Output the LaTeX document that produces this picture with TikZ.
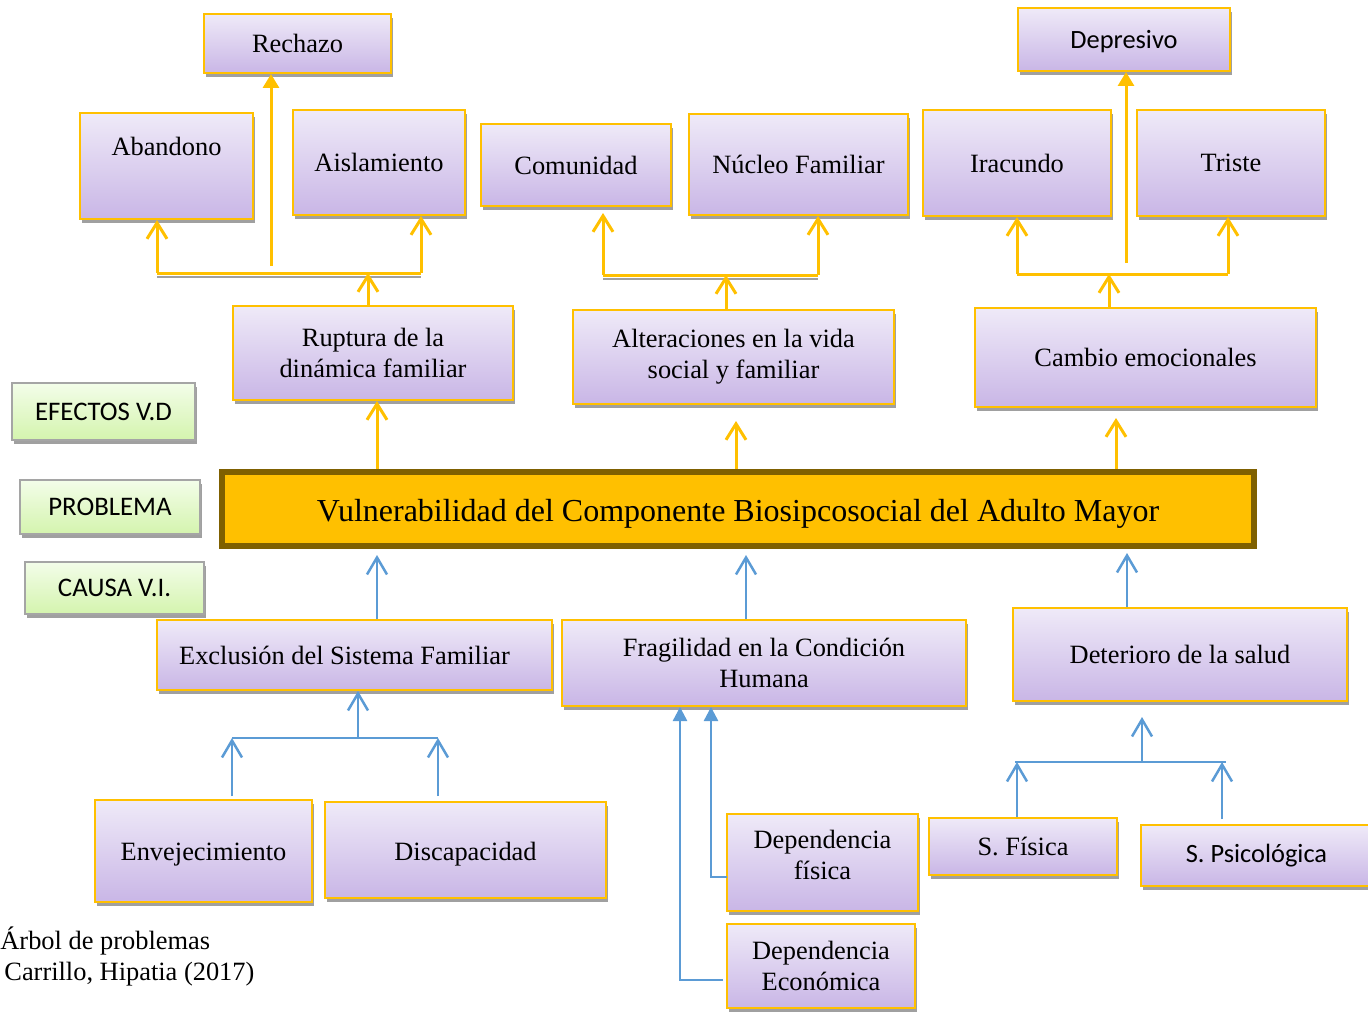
\documentclass[tikz,border=0pt]{standalone}
\usepackage{fontspec}
\setmainfont{Liberation Serif}
\newfontfamily\calib{Carlito}
\usetikzlibrary{arrows.meta,shadows}

\definecolor{gold}{HTML}{FFC000}
\definecolor{lavtop}{HTML}{EFEAF8}
\definecolor{lavbot}{HTML}{C9B6E6}
\definecolor{greentop}{HTML}{F3FDE9}
\definecolor{greenbot}{HTML}{D4F4AE}
\definecolor{greenline}{HTML}{A5A5A5}
\definecolor{brownline}{HTML}{7F6000}
\definecolor{bluelink}{HTML}{5B9BD5}
\definecolor{shadowgray}{HTML}{A0A0A0}

\tikzset{
  boxshadow/.style={drop shadow={shadow xshift=0.8pt, shadow yshift=-2pt, fill=shadowgray, opacity=1}},
  serif/.style={font=\fontsize{13.2}{15.5}\selectfont},
  calibtext/.style={font=\calib\fontsize{13.2}{15.5}\selectfont},
  sz/.style 2 args={minimum width=#1pt, minimum height=#2pt},
  box/.style={draw=gold, line width=1pt, top color=lavtop, bottom color=lavbot,
    inner sep=0pt, align=center, serif, boxshadow},
  tag/.style={draw=greenline, line width=1pt, top color=greentop, bottom color=greenbot,
    inner sep=0pt, align=center, font=\calib\fontsize{13.4}{15}\selectfont, boxshadow},
  core/.style={draw=brownline, line width=3pt, fill=gold, inner sep=0pt,
    font=\fontsize{16}{19}\selectfont},
  yline/.style={draw=gold, line width=1.5pt},
  yarrow/.style={yline, -{Straight Barb[length=8pt,width=10pt]}},
  yfill/.style={yline, -{Triangle[length=7pt,width=8pt]}},
  bline/.style={draw=bluelink, line width=1.25pt},
  barrow/.style={bline, -{Straight Barb[length=8.5pt,width=10pt]}},
  bfill/.style={bline, -{Triangle[length=7pt,width=7pt]}},
  barshadow/.style={draw=shadowgray, line width=1pt},
}

\begin{document}
\begin{tikzpicture}[x=0.5pt, y=-0.5pt]
\useasboundingbox (0,0) rectangle (1368,1011);

% ---- effects ----
\node[box, sz={93.5}{29.5}] (rech) at (297.5,43.5) {Rechazo};
\node[box, sz={86.5}{53}] (aban) at (166.5,166) {Abandono\\ \strut};
\node[box, sz={86}{52.5}] (aisl) at (379,162.5) {Aislamiento};
\node[box, sz={95}{41}] (comu) at (576,165) {Comunidad};
\node[box, sz={109.5}{50.5}] (nucl) at (798.5,164.5) {Núcleo Familiar};
\node[box, sz={94}{53}] (irac) at (1017,163) {Iracundo};
\node[box, sz={94}{53}] (tris) at (1231,163) {Triste};
\node[box, calibtext, sz={106}{31.5}] (depr) at (1124,39.5) {\raisebox{-1pt}[\height][\depth]{Depresivo}};
\node[box, sz={140}{47}] (rupt) at (373,353) {Ruptura de la\\dinámica familiar};
\node[box, sz={160.5}{47}] (alte) at (733.5,357) {Alteraciones en la vida\\social y familiar};
\node[box, sz={170.5}{49.5}] (camb) at (1145.5,357.5) {Cambio emocionales};

% ---- level labels ----
\node[tag, sz={91.5}{28.5}] (efec) at (103.5,411.5) {EFECTOS V.D};
\node[tag, sz={90}{27}] (prob) at (110,507) {PROBLEMA};
\node[tag, sz={89.5}{26}] (caus) at (114.5,588) {CAUSA V.I.};

% ---- central problem ----
\node[core, sz={516}{37}] (vuln) at (738,509)
  {\raisebox{-2.5pt}[\height][\depth]{Vulnerabilidad del Componente Biosipcosocial del Adulto Mayor}};

% ---- causes ----
\node[box, sz={197.5}{35}] (excl) at (354.5,655) {\hspace*{-10pt}Exclusión del Sistema Familiar};
\node[box, sz={202}{43}] (frag) at (764,663) {Fragilidad en la Condición\\Humana};
\node[box, sz={167}{46.5}] (dete) at (1180,654.5) {Deterioro de la salud};
\node[box, sz={108.5}{51}] (enve) at (203.5,851) {\raisebox{-2pt}[\height][\depth]{Envejecimiento}};
\node[box, sz={140.5}{48}] (disc) at (465.5,850) {\raisebox{-2pt}[\height][\depth]{Discapacidad}};
\node[box, sz={95.5}{48.5}] (dfis) at (822.5,862.5) {Dependencia\\física\\[-12pt]\strut};
\node[box, sz={94}{42}] (deco) at (821,966) {Dependencia\\Económica};
\node[box, sz={94}{28.5}] (sfis) at (1023,846.5) {S. Física};
\node[box, calibtext, sz={115.5}{30.5}] (spsi) at (1256.5,855.5) {S. Psicológica};

% ---- source ----
\node[anchor=north west, align=left, inner sep=0pt, serif] (capt) at (0,926)
  {Árbol de problemas\\\hspace{2pt}Carrillo, Hipatia (2017)};

% ---- effect connectors ----
\coordinate (j1) at (368,273);
\coordinate (j1l) at (157,273);
\coordinate (j1r) at (421,273);
\draw[barshadow] ([yshift=-2pt]j1l) -- ([yshift=-2pt]j1r);
\draw[yline] (j1l) -- (j1r);
\draw[yarrow] (j1 |- rupt.north) -- (j1);
\draw[yarrow] (j1l) -- (j1l |- aban.south);
\draw[yarrow] (j1r) -- (j1r |- aisl.south);
\coordinate (r0) at (271,266);
\draw[yfill] (r0) -- (r0 |- rech.south);

\coordinate (j2) at (726,275);
\coordinate (j2l) at (603,275);
\coordinate (j2r) at (818,275);
\draw[barshadow] ([yshift=-2pt]j2l) -- ([yshift=-2pt]j2r);
\draw[yline] (j2l) -- (j2r);
\draw[yarrow] (j2 |- alte.north) -- (j2);
\draw[yarrow, shorten >=3pt] (j2l) -- (j2l |- comu.south);
\draw[yarrow] (j2r) -- (j2r |- nucl.south);

\coordinate (j3) at (1109,274);
\coordinate (j3l) at (1017,274);
\coordinate (j3r) at (1228,274);
\draw[yline] (j3l) -- (j3r);
\draw[yarrow] (j3 |- camb.north) -- (j3);
\draw[yarrow] (j3l) -- (j3l |- irac.south);
\draw[yarrow] (j3r) -- (j3r |- tris.south);
\coordinate (d0) at (1126,263);
\draw[yfill] (d0) -- (d0 |- depr.south);

\coordinate (e1) at (377,0);
\coordinate (e2) at (736,0);
\coordinate (e3) at (1116,0);
\draw[yarrow] (e1 |- vuln.north) -- (e1 |- rupt.south);
\draw[yarrow, shorten >=8pt] (e2 |- vuln.north) -- (e2 |- alte.south);
\draw[yarrow, shorten >=5pt] (e3 |- vuln.north) -- (e3 |- camb.south);

% ---- cause connectors ----
\coordinate (c1) at (377,0);
\coordinate (c2) at (746,0);
\coordinate (c3) at (1127,0);
\draw[barrow, shorten >=3pt] (c1 |- excl.north) -- (c1 |- vuln.south);
\draw[barrow, shorten >=3pt] (c2 |- frag.north) -- (c2 |- vuln.south);
\draw[barrow, shorten >=2pt] (c3 |- dete.north) -- (c3 |- vuln.south);

\coordinate (k1) at (358,738);
\coordinate (k1l) at (232,738);
\coordinate (k1r) at (438,738);
\draw[bline] (k1l) -- (k1r);
\draw[barrow] (k1) -- (k1 |- excl.south);
\draw[barrow] ([yshift=1.5pt]k1l |- enve.north) -- (k1l);
\draw[barrow] ([yshift=2.5pt]k1r |- disc.north) -- (k1r);

\coordinate (k3) at (1142,762);
\coordinate (k3l) at (1015,762);
\coordinate (k3r) at (1226,762);
\draw[bline] (k3l) -- (k3r);
\draw[barrow, shorten >=7.5pt] (k3) -- (k3 |- dete.south);
\draw[barrow] (sfis.north -| 1017,0) -- (1017,762);
\draw[barrow] ([yshift=2.5pt]spsi.north -| 1222,0) -- (1222,762);

\coordinate (f1) at (727,877);
\coordinate (f2) at (723,980);
\draw[bfill] (f1) -| (711,0 |- frag.south);
\draw[bfill] (f2) -| (680,0 |- frag.south);
\end{tikzpicture}
\end{document}
